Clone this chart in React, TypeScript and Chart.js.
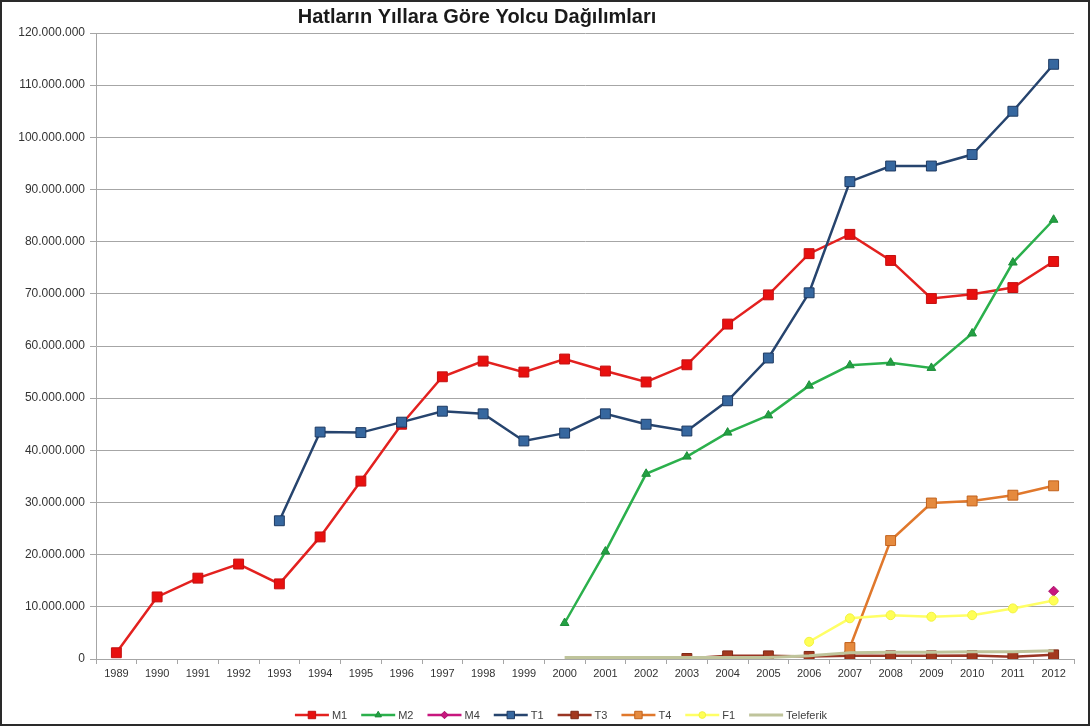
import React, { useEffect, useRef } from 'react';
import { Chart, registerables } from 'chart.js';

Chart.register(...registerables);

// Yearly passenger counts per line
const years = ['1989', '1990', '1991', '1992', '1993', '1994', '1995', '1996', '1997', '1998', '1999', '2000',
  '2001', '2002', '2003', '2004', '2005', '2006', '2007', '2008', '2009', '2010', '2011', '2012'];

const m1 = [1200000, 11900000, 15500000, 18200000, 14400000, 23400000, 34100000, 45000000, 54100000, 57100000,
  55000000, 57500000, 55200000, 53100000, 56400000, 64200000, 69800000, 77700000, 81400000, 76400000,
  69100000, 69900000, 71200000, 76200000];

const m2 = [null, null, null, null, null, null, null, null, null, null, null, 6900000,
  20600000, 35500000, 38800000, 43400000, 46700000, 52400000, 56300000, 56800000, 55800000, 62400000,
  76000000, 84200000];

const m4 = [null, null, null, null, null, null, null, null, null, null, null, null,
  null, null, null, null, null, null, null, null, null, null, null, 13000000];

const t1 = [null, null, null, null, 26500000, 43500000, 43400000, 45400000, 47500000, 47000000, 41800000,
  43300000, 47000000, 45000000, 43700000, 49500000, 57700000, 70200000, 91500000, 94500000, 94500000,
  96700000, 105000000, 114000000];

const t3 = [null, null, null, null, null, null, null, null, null, null, null, null,
  null, null, 100000, 600000, 600000, 500000, 600000, 600000, 600000, 650000, 450000, 800000];

const t4 = [null, null, null, null, null, null, null, null, null, null, null, null,
  null, null, null, null, null, null, 2200000, 22700000, 29900000, 30300000, 31400000, 33200000];

const f1 = [null, null, null, null, null, null, null, null, null, null, null, null,
  null, null, null, null, null, 3300000, 7800000, 8400000, 8100000, 8400000, 9700000, 11200000];

const teleferik = [null, null, null, null, null, null, null, null, null, null, null, 300000,
  300000, 300000, 300000, 300000, 300000, 600000, 1200000, 1300000, 1300000, 1400000, 1400000, 1600000];

const yTicksMax = 120000000;
const yTicksStep = 10000000;

const TITLE = 'Hatların Yıllara Göre Yolcu Dağılımları';
const FONT = '"Liberation Sans", Arial, sans-serif';

type SeriesStyle = {
  label: string;
  data: (number | null)[];
  line: string;
  width: number;
  fill: string;
  stroke: string;
  shape: 'rect' | 'triangle' | 'rectRot' | 'circle' | 'none';
  radius: number;
};

const series: SeriesStyle[] = [
  { label: 'M1', data: m1, line: '#E3211F', width: 2.5, fill: '#E8100F', stroke: '#C41010', shape: 'rect', radius: 7 },
  { label: 'M2', data: m2, line: '#2BB04C', width: 2.5, fill: '#23A043', stroke: '#1E8E3A', shape: 'triangle', radius: 5 },
  { label: 'M4', data: m4, line: '#C8167E', width: 2.5, fill: '#C8167E', stroke: '#A81068', shape: 'rectRot', radius: 5 },
  { label: 'T1', data: t1, line: '#26446E', width: 2.5, fill: '#36679F', stroke: '#1E3A62', shape: 'rect', radius: 7 },
  { label: 'T3', data: t3, line: '#9A3524', width: 2.5, fill: '#A3391F', stroke: '#7E2A16', shape: 'rect', radius: 7 },
  { label: 'T4', data: t4, line: '#E0782C', width: 2.5, fill: '#E58A3E', stroke: '#C2621C', shape: 'rect', radius: 7 },
  { label: 'F1', data: f1, line: '#FFFF66', width: 2.5, fill: '#FFFF55', stroke: '#F2F240', shape: 'circle', radius: 4.5 },
  { label: 'Teleferik', data: teleferik, line: '#BFC49B', width: 3, fill: '#BFC49B', stroke: '#BFC49B', shape: 'none', radius: 0 },
];

const formatDots = (v: number) => String(v).replace(/\B(?=(\d{3})+(?!\d))/g, '.');

function drawMarker(ctx: CanvasRenderingContext2D, s: SeriesStyle, x: number, y: number, scale: number) {
  if (s.shape === 'none') return;
  const r = s.radius * scale;
  ctx.beginPath();
  if (s.shape === 'rect') {
    const h = r * Math.SQRT1_2;
    ctx.rect(x - h, y - h, 2 * h, 2 * h);
  } else if (s.shape === 'triangle') {
    ctx.moveTo(x, y - r);
    ctx.lineTo(x + r * 0.866, y + r * 0.5);
    ctx.lineTo(x - r * 0.866, y + r * 0.5);
    ctx.closePath();
  } else if (s.shape === 'rectRot') {
    ctx.moveTo(x, y - r);
    ctx.lineTo(x + r, y);
    ctx.lineTo(x, y + r);
    ctx.lineTo(x - r, y);
    ctx.closePath();
  } else {
    ctx.arc(x, y, r, 0, Math.PI * 2);
  }
  ctx.fillStyle = s.fill;
  ctx.fill();
  ctx.lineWidth = 1;
  ctx.strokeStyle = s.stroke;
  ctx.stroke();
}

const titlePlugin = {
  id: 'chartTitle',
  afterDraw(chart: any) {
    const ctx: CanvasRenderingContext2D = chart.ctx;
    ctx.save();
    ctx.font = `bold 20px ${FONT}`;
    ctx.fillStyle = '#1a1a1a';
    ctx.textAlign = 'center';
    ctx.textBaseline = 'middle';
    ctx.fillText(TITLE, 477, 17);
    ctx.restore();
  },
};

const legendPlugin = {
  id: 'lineLegend',
  afterDraw(chart: any) {
    const ctx: CanvasRenderingContext2D = chart.ctx;
    ctx.save();
    ctx.font = `11px ${FONT}`;
    const lineLen = 34;
    const gap = 3;
    const itemGap = 14;
    const widths = series.map((s) => lineLen + gap + ctx.measureText(s.label).width);
    const total = widths.reduce((a, b) => a + b, 0) + itemGap * (series.length - 1);
    let x = 561 - total / 2;
    const y = 715;
    series.forEach((s, i) => {
      ctx.beginPath();
      ctx.moveTo(x, y);
      ctx.lineTo(x + lineLen, y);
      ctx.strokeStyle = s.line;
      ctx.lineWidth = s.width;
      ctx.stroke();
      drawMarker(ctx, s, x + lineLen / 2, y, 0.75);
      ctx.fillStyle = '#404040';
      ctx.textAlign = 'left';
      ctx.textBaseline = 'middle';
      ctx.fillText(s.label, x + lineLen + gap, y + 0.5);
      x += widths[i] + itemGap;
    });
    ctx.restore();
  },
};

export default function App() {
  const canvasRef = useRef<HTMLCanvasElement | null>(null);

  useEffect(() => {
    document.body.style.margin = '0';
    const canvas = canvasRef.current;
    if (!canvas) return;
    const chart = new Chart(canvas, {
      type: 'line',
      data: {
        labels: years,
        datasets: series.map((s, i) => ({
          label: s.label,
          data: s.data,
          borderColor: s.line,
          backgroundColor: s.fill,
          borderWidth: s.width,
          pointStyle: s.shape === 'none' ? false : s.shape,
          pointRadius: s.radius,
          pointBackgroundColor: s.fill,
          pointBorderColor: s.stroke,
          pointBorderWidth: 1,
          tension: 0,
          fill: false,
          spanGaps: false,
          order: series.length - i,
        })),
      },
      options: {
        responsive: false,
        animation: false,
        events: [],
        layout: { padding: { top: 33, left: 0, right: 18, bottom: 0 } },
        plugins: {
          legend: { display: false },
          title: { display: false },
          tooltip: { enabled: false },
        },
        scales: {
          x: {
            type: 'category',
            offset: true,
            grid: {
              offset: true,
              drawOnChartArea: false,
              drawTicks: true,
              tickLength: 5,
              color: '#A6A6A6',
            },
            border: { color: '#A6A6A6', width: 1 },
            ticks: {
              color: '#333333',
              font: { family: FONT, size: 11 },
              padding: 3,
              maxRotation: 0,
              autoSkip: false,
            },
            afterFit: (scale: any) => {
              scale.height = 69;
            },
          },
          y: {
            min: 0,
            max: yTicksMax,
            grid: { color: '#A6A6A6', lineWidth: 1, tickLength: 6 },
            border: { color: '#A6A6A6', width: 1 },
            ticks: {
              stepSize: yTicksStep,
              color: '#333333',
              font: { family: FONT, size: 12 },
              padding: 5,
              callback: (v: any) => formatDots(Number(v)),
            },
            afterFit: (scale: any) => {
              scale.width = 96;
            },
          },
        },
      },
      plugins: [titlePlugin, legendPlugin],
    });
    return () => chart.destroy();
  }, []);

  return (
    <div style={{ position: 'relative', width: 1092, height: 728, background: '#ffffff' }}>
      <canvas ref={canvasRef} width={1092} height={728} style={{ position: 'absolute', left: 0, top: 0 }} />
      <div
        style={{
          position: 'absolute',
          left: 0,
          top: 0,
          width: 1090,
          height: 726,
          border: '2px solid #2a2a2a',
          boxSizing: 'border-box',
          pointerEvents: 'none',
        }}
      />
    </div>
  );
}
